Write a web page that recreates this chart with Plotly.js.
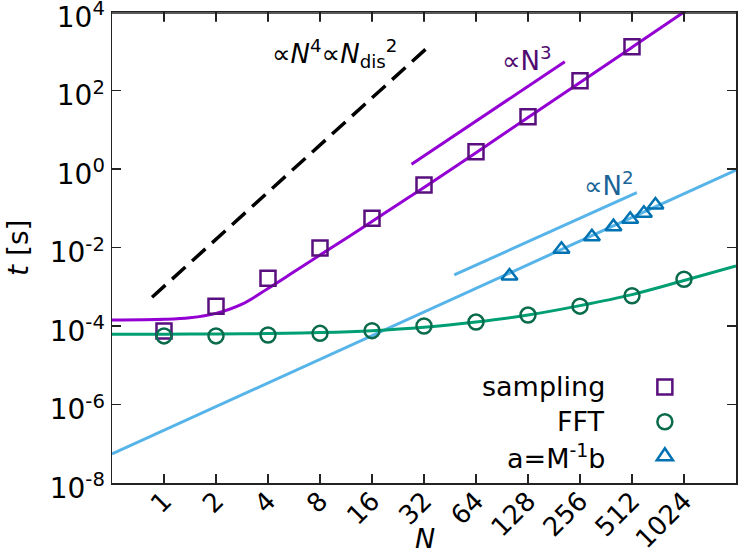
<!DOCTYPE html>
<html>
<head>
<meta charset="utf-8">
<script src="https://cdn.plot.ly/plotly-3.0.1.min.js"></script>
<style>
  html, body { margin: 0; padding: 0; background: #fff; }
  #plot { width: 740px; height: 552px; }
</style>
</head>
<body>
<div id="plot"></div>
<script>
// measured points
const nSampling = [1, 2, 4, 8, 16, 32, 64, 128, 256, 512]
const tSampling = [7.5e-5, 3.2e-4, 1.64e-3, 9.7e-3, 0.056, 0.39, 2.76, 21.5, 178, 1306]

const nFFT = [1, 2, 4, 8, 16, 32, 64, 128, 256, 512, 1024]
const tFFT = [5.6e-5, 5.6e-5, 5.9e-5, 6.5e-5, 7.6e-5, 1.0e-4, 1.26e-4, 1.9e-4, 3.2e-4, 5.9e-4, 1.55e-3]

const nSolve = [100, 200, 300, 400, 500, 600, 700]
const tSolve = [1.88e-3, 9.0e-3, 0.0188, 0.034, 0.0525, 0.0743, 0.121]

// fitted curves
const nFitSampling = [0.5, 1, 1.41, 2, 2.83, 4, 5.66, 8, 11.3, 16, 22.6, 32, 64, 128, 256, 512, 1024, 2048]
const tFitSampling = [1.42e-4, 1.48e-4, 1.62e-4, 2.1e-4, 3.6e-4, 9e-4, 2.4e-3, 6.4e-3, 0.017, 0.046, 0.125, 0.34, 2.6, 20.5, 160, 1260, 1.0e4, 8.0e4]

const nFitFFT = [0.5, 1, 2, 4, 8, 16, 32, 64, 128, 256, 512, 1024, 2048]
const tFitFFT = [6.2e-5, 6.2e-5, 6.25e-5, 6.4e-5, 6.8e-5, 7.6e-5, 9.3e-5, 1.27e-4, 1.9e-4, 3.3e-4, 6.3e-4, 1.44e-3, 3.4e-3]

const nFitSolve = [0.5, 2048]
const tFitSolve = [5.5e-8, 0.94]

// guide lines
const nGuide4 = [0.853, 34.3]
const tGuide4 = [5.4e-4, 1361]
const nGuide3 = [27.1, 209]
const tGuide3 = [1.32, 542]
const nGuide2 = [47.9, 546]
const tGuide2 = [2.0e-3, 0.249]

const xTicks = [1, 2, 4, 8, 16, 32, 64, 128, 256, 512, 1024]
const yTicks = [1e-8, 1e-6, 1e-4, 1e-2, 1, 1e2, 1e4]
const yTickText = ['10<sup>-8</sup>', '10<sup>-6</sup>', '10<sup>-4</sup>', '10<sup>-2</sup>',
  '10<sup>0</sup>', '10<sup>2</sup>', '10<sup>4</sup>']

const legendNames = ['sampling', 'FFT', 'a=M<sup>-1</sup>b']
const legendY = [0.204, 0.130, 0.057]

const purpleLine = '#9400d3'
const purpleMark = '#5a0f7e'
const greenLine = '#009e73'
const greenMark = '#0a6b4c'
const blueLine = '#56b4e9'
const blueMark = '#0072b2'
const AXIS = '#222'
const FONT = 'DejaVu Sans, sans-serif'

// top frame drawn just inside the plot area (1 px, 10 px below the top, in log units)
const yRange = [-8, 4]
const pxPerDecade = 471 / (yRange[1] - yRange[0])
const frameTop = Math.pow(10, yRange[1] - 1 / pxPerDecade)
const tickEnd = Math.pow(10, yRange[1] - 10 / pxPerDecade)

const line = (x, y, color, extra = {}) => ({
  x, y, type: 'scatter', mode: 'lines', hoverinfo: 'none',
  line: Object.assign({color, width: 3}, extra),
})

const marks = (x, y, symbol, color, size) => ({
  x, y, type: 'scatter', mode: 'markers', hoverinfo: 'none',
  marker: {symbol, size, color, line: {color, width: 2.5}},
})

const traces = [
  line(nFitSolve, tFitSolve, blueLine),
  line(nFitFFT, tFitFFT, greenLine, {shape: 'spline', smoothing: 1}),
  line(nFitSampling, tFitSampling, purpleLine, {shape: 'spline', smoothing: 1}),
  line(nGuide4, tGuide4, '#000', {dash: '18px,9px', width: 3.5}),
  line(nGuide3, tGuide3, purpleLine),
  line(nGuide2, tGuide2, blueLine),
  marks(nSampling, tSampling, 'square-open', purpleMark, 15),
  marks(nFFT, tFFT, 'circle-open', greenMark, 15),
  marks(nSolve, tSolve, 'triangle-up-open', blueMark, 14),
]

const txt = (text, x, y, size, color, extra = {}) => Object.assign({
  text, xref: 'paper', yref: 'paper', x, y, showarrow: false,
  xanchor: 'left', yanchor: 'middle',
  font: {family: FONT, size, color},
}, extra)

const annotations = legendNames.map((name, i) =>
  txt(name, 0.794, legendY[i], 27, '#000', {xanchor: 'right'}))

annotations.push(
  txt('\u221d<i>N</i><sup>4</sup>\u221d<i>N</i><sub>dis</sub><sup>2</sup>', 0.253, 0.912, 26, '#000'),
  txt('\u221dN<sup>3</sup>', 0.622, 0.9, 26, '#4f0a70'),
  txt('\u221dN<sup>2</sup>', 0.753, 0.634, 26, '#1b6497'),
  // axis titles
  txt('<i>t</i> [s]', -0.15, 0.5, 28, '#000', {xanchor: 'center', textangle: -90}),
  txt('<i>N</i>', 0.502, -0.118, 27, '#000', {xanchor: 'center'}),
)

// legend keys, drawn as pixel-sized shapes
const keyX = 0.886
const keyShape = (type, yy, color, extra) => Object.assign({
  type, xref: 'paper', yref: 'paper', xsizemode: 'pixel', ysizemode: 'pixel',
  xanchor: keyX, yanchor: yy, line: {color, width: 2.5}, fillcolor: 'rgba(0,0,0,0)',
}, extra)
const shapes = [
  keyShape('rect', legendY[0], purpleMark, {x0: -7.5, x1: 7.5, y0: -7.5, y1: 7.5}),
  keyShape('circle', legendY[1], greenMark, {x0: -7.5, x1: 7.5, y0: -7.5, y1: 7.5}),
  keyShape('path', legendY[2], blueMark, {path: 'M-8.1,-4.2 L8.1,-4.2 L0,7.8 Z'}),
  {type: 'line', xref: 'paper', yref: 'y', x0: 0, x1: 1, y0: frameTop, y1: frameTop,
    line: {color: AXIS, width: 1.5}, layer: 'above'},
  ...xTicks.map(v => ({
    type: 'line', xref: 'x', yref: 'y', x0: v, x1: v, y0: frameTop, y1: tickEnd,
    line: {color: AXIS, width: 1.5}, layer: 'above',
  })),
]

const axisStyle = {
  showline: true, linecolor: AXIS, linewidth: 1.5, mirror: 'ticks',
  ticks: 'inside', ticklen: 9, tickwidth: 1.5, tickcolor: AXIS,
  showgrid: false, zeroline: false, ticklabeloverflow: 'allow',
}

const layout = {
  width: 740, height: 552,
  margin: {l: 112, r: 4, t: 12, b: 69},
  paper_bgcolor: '#fff', plot_bgcolor: '#fff',
  showlegend: false,
  font: {family: FONT, size: 26, color: '#000'},
  xaxis: Object.assign({}, axisStyle, {
    type: 'log',
    range: [Math.log10(0.5), Math.log10(2048)],
    tickmode: 'array', tickvals: xTicks, ticktext: xTicks.map(String),
    tickangle: -45, ticklabelstandoff: -9,
    tickfont: {family: FONT, size: 26, color: '#000'},
  }),
  yaxis: Object.assign({}, axisStyle, {
    type: 'log',
    range: yRange,
    tickmode: 'array', tickvals: yTicks, ticktext: yTickText,
    ticklabelshift: 5,
    tickfont: {family: FONT, size: 28, color: '#000'},
  }),
  annotations,
  shapes,
}

Plotly.newPlot('plot', traces, layout, {staticPlot: true})
</script>
</body>
</html>
